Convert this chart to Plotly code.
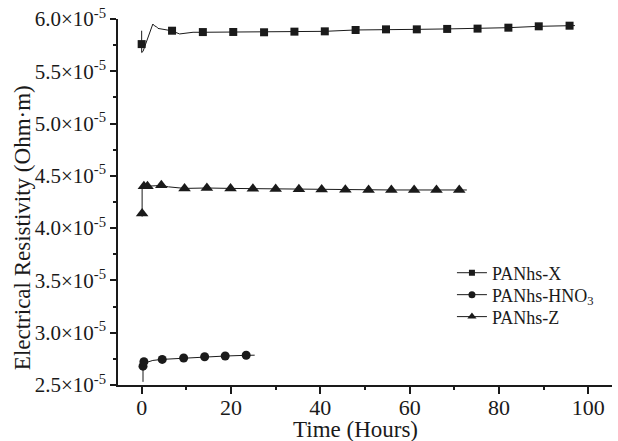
import numpy as np
import plotly.graph_objects as go

# ---- data (resistivity in units of 1e-5 Ohm·m) ----
x_line_h = [0, 0, 0.3, 1.2, 2.2, 2.5, 2.9, 3.3, 3.65, 4.4, 5.15, 6.65, 8.5, 9.6, 11.5, 13.5,
            20.5, 27.4, 34.2, 41.0, 47.9, 54.7, 61.6, 68.4, 75.2, 82.1, 88.9, 95.8, 97.0]
x_line_v = [5.888, 5.68, 5.69, 5.80, 5.927, 5.952, 5.933, 5.927, 5.91, 5.904, 5.895, 5.888, 5.857,
            5.863, 5.873, 5.873, 5.876, 5.873, 5.879, 5.882, 5.895, 5.901, 5.901, 5.905, 5.908,
            5.917, 5.930, 5.936, 5.937]
x_mark_h = [0, 6.8, 13.7, 20.5, 27.4, 34.2, 41.0, 47.9, 54.7, 61.6, 68.4, 75.2, 82.1, 88.9, 95.8]
x_mark_v = [5.76, 5.888, 5.875, 5.876, 5.873, 5.879, 5.882, 5.895, 5.901, 5.901, 5.905, 5.908,
            5.917, 5.930, 5.936]

hno3_line_h = [0.3, 0.3, 0.3, 1.0, 2.5, 4.6, 9.4, 14.1, 18.7, 23.4, 25.3]
hno3_line_v = [2.53, 2.68, 2.723, 2.715, 2.735, 2.745, 2.758, 2.770, 2.777, 2.784, 2.785]
hno3_mark_h = [0.3, 0.5, 4.6, 9.4, 14.1, 18.7, 23.4]
hno3_mark_v = [2.68, 2.723, 2.745, 2.758, 2.770, 2.777, 2.784]

z_line_h = [0.1, 0.1, 0.5, 1.3, 3.0, 4.4, 6.0, 9.6, 14.6, 19.9, 24.9, 30.0, 35.2, 40.3,
            45.6, 50.8, 55.9, 61.0, 66.0, 71.1, 72.8]
z_line_v = [4.11, 4.40, 4.40, 4.40, 4.405, 4.41, 4.395, 4.38, 4.384, 4.38, 4.377, 4.375, 4.372,
            4.37, 4.366, 4.365, 4.365, 4.365, 4.365, 4.365, 4.365]
z_mark_h = [0.1, 0.5, 1.3, 4.4, 9.6, 14.6, 19.9, 24.9, 30.0, 35.2, 40.3, 45.6, 50.8, 55.9,
            61.0, 66.0, 71.1]
z_mark_v = [4.14, 4.40, 4.40, 4.41, 4.38, 4.384, 4.38, 4.377, 4.375, 4.372, 4.37, 4.366,
            4.365, 4.365, 4.365, 4.365, 4.365]

series_names = ["PANhs-X", "PANhs-HNO<sub>3</sub>", "PANhs-Z"]
y_tick_vals = [2.5, 3.0, 3.5, 4.0, 4.5, 5.0, 5.5, 6.0]
y_tick_text = ["2.5×10<sup>-5</sup>", "3.0×10<sup>-5</sup>", "3.5×10<sup>-5</sup>",
               "4.0×10<sup>-5</sup>", "4.5×10<sup>-5</sup>", "5.0×10<sup>-5</sup>",
               "5.5×10<sup>-5</sup>", "6.0×10<sup>-5</sup>"]
x_tick_vals = [0, 20, 40, 60, 80, 100]

SCALE = 1e-5
FONT = "Liberation Serif, Times New Roman, serif"
INK = "#1a1a1a"

fig = go.Figure()

series = [
    (x_line_h, x_line_v, x_mark_h, x_mark_v, "square", 8, 6),
    (hno3_line_h, hno3_line_v, hno3_mark_h, hno3_mark_v, "circle", 9, 7),
    (z_line_h, z_line_v, z_mark_h, z_mark_v, "triangle-up", 11, 8),
]
legend_ids = ["legend", "legend2", "legend3"]
legend_ys = [0.306, 0.246, 0.186]

for (lh, lv, mh, mv, sym, ms, lms), name, lid in zip(series, series_names, legend_ids):
    fig.add_trace(go.Scatter(x=lh, y=np.array(lv) * SCALE, mode="lines",
                             line=dict(color=INK, width=1), showlegend=False,
                             hoverinfo="skip"))
    fig.add_trace(go.Scatter(x=mh, y=np.array(mv) * SCALE, mode="markers",
                             marker=dict(symbol=sym, size=ms, color=INK),
                             showlegend=False))
    fig.add_trace(go.Scatter(x=[None], y=[None], mode="lines+markers", name=name,
                             legend=lid, showlegend=True,
                             line=dict(color=INK, width=1),
                             marker=dict(symbol=sym, size=lms, color=INK)))

legend_common = dict(x=0.676, xanchor="left", yanchor="middle",
                     bgcolor="rgba(0,0,0,0)", font=dict(size=18, family=FONT, color=INK),
                     itemsizing="trace")

fig.update_layout(
    width=618, height=441,
    margin=dict(l=118, r=6, t=19, b=56),
    paper_bgcolor="white", plot_bgcolor="white",
    font=dict(family=FONT, color=INK, size=21),
    showlegend=True,
    legend=dict(y=legend_ys[0], **legend_common),
    legend2=dict(y=legend_ys[1], **legend_common),
    legend3=dict(y=legend_ys[2], **legend_common),
    xaxis=dict(range=[-5.3, 105.3], tickvals=x_tick_vals, showgrid=False, zeroline=False,
               showline=True, linecolor=INK, linewidth=1.5, ticks="outside", ticklen=7,
               tickwidth=1.5, tickcolor=INK, tickfont=dict(size=22), ticklabelstandoff=-5,
               minor=dict(dtick=10, ticks="outside", ticklen=3, tickwidth=1.5, tickcolor=INK,
                          showgrid=False)),
    yaxis=dict(range=[2.5 * SCALE, 6.0 * SCALE],
               tickvals=[v * SCALE for v in y_tick_vals], ticktext=y_tick_text,
               showgrid=False, zeroline=False, showline=True, linecolor=INK, linewidth=1.5,
               ticks="outside", ticklen=6, tickwidth=1.5, tickcolor=INK,
               tickfont=dict(size=21),
               minor=dict(dtick=0.25 * SCALE, tick0=2.5 * SCALE, ticks="outside", ticklen=3,
                          tickwidth=1.5, tickcolor=INK, showgrid=False)),
    annotations=[
        dict(text="Time (Hours)", xref="paper", yref="paper", x=0.48, y=-0.122,
             xanchor="center", yanchor="middle", showarrow=False,
             font=dict(size=23, family=FONT, color=INK)),
        dict(text="Electrical Resistivity (Ohm·m)", xref="paper", yref="paper",
             x=-0.192, y=0.429, xanchor="center", yanchor="middle", textangle=-90,
             showarrow=False, font=dict(size=23, family=FONT, color=INK)),
    ],
)

fig.write_html("out.html", config={"displayModeBar": False},
               post_script="document.body.style.margin='0';document.body.style.overflow='hidden';")
